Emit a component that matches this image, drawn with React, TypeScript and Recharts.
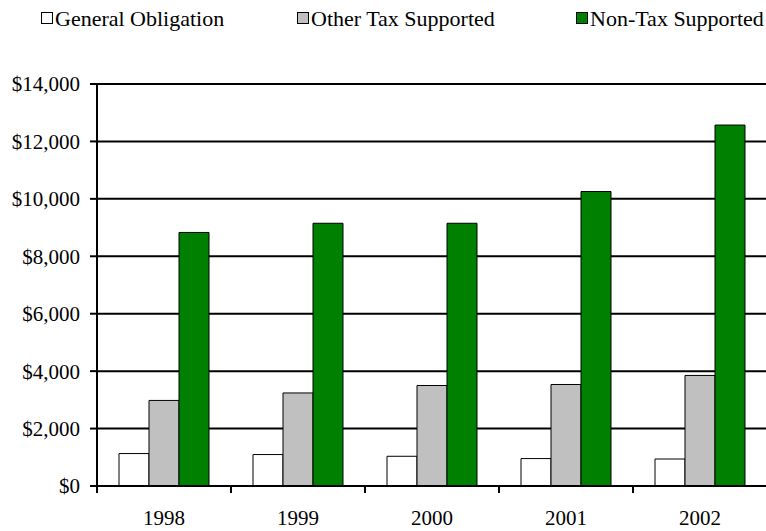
import { Bar, BarChart, CartesianGrid, XAxis, YAxis } from 'recharts';

const years = ['1998', '1999', '2000', '2001', '2002'];
const generalObligation = [1130, 1095, 1035, 955, 940];
const otherTaxSupported = [2980, 3240, 3500, 3535, 3850];
const nonTaxSupported = [8830, 9150, 9150, 10255, 12570];
const yTicks = [0, 2000, 4000, 6000, 8000, 10000, 12000, 14000];

const seriesNames = ['General Obligation', 'Other Tax Supported', 'Non-Tax Supported'];
const seriesColors = ['#ffffff', '#c0c0c0', '#008000'];
const legendX = [41, 297, 576];

const data = years.map((year, i) => ({
  year,
  go: generalObligation[i],
  other: otherTaxSupported[i],
  nonTax: nonTaxSupported[i],
}));

const font = 'Liberation Serif';

function ChartLegend() {
  return (
    <svg width={766} height={40} style={{ position: 'absolute', left: 0, top: 0 }}>
      {seriesNames.map((name, i) => (
        <g key={name}>
          <rect x={legendX[i] + 0.5} y={12.5} width={11} height={11} fill={seriesColors[i]} stroke="#000" strokeWidth={1} />
          <text x={legendX[i] + 14} y={26} fontFamily={font} fontSize={22} fill="#000">
            {name}
          </text>
        </g>
      ))}
    </svg>
  );
}

// label at the band centre, tick mark on the band's left boundary (Excel style)
function YearTick(props: any) {
  const { x, y, payload, width, visibleTicksCount } = props;
  const band = width / visibleTicksCount;
  const left = x - band / 2;
  return (
    <g>
      <line x1={left} y1={y} x2={left} y2={y + 7} stroke="#000" strokeWidth={2} />
      <text x={x} y={y + 24} dy="0.71em" textAnchor="middle" fontFamily={font} fontSize={21} fill="#000">
        {payload.value}
      </text>
    </g>
  );
}

export default function App() {
  return (
    <div style={{ position: 'absolute', left: 0, top: 0, width: 766, height: 531, overflow: 'hidden', background: '#fff' }}>
      <ChartLegend />
      <div style={{ position: 'absolute', left: 0, top: 0 }}>
        <BarChart
          width={767}
          height={531}
          data={data}
          margin={{ top: 84, right: 0, bottom: 0, left: 0 }}
          barGap={0}
          barSize={30}
        >
          <CartesianGrid vertical={false} stroke="#000" strokeWidth={2} />
          <XAxis
            dataKey="year"
            interval={0}
            height={45}
            tickSize={0}
            tickMargin={0}
            tickLine={false}
            tick={<YearTick />}
            axisLine={{ stroke: '#000', strokeWidth: 2 }}
          />
          <YAxis
            width={97}
            domain={[0, 14000]}
            ticks={yTicks}
            interval={0}
            tickSize={7}
            tickMargin={10}
            tickFormatter={(v: number) => '$' + v.toLocaleString('en-US')}
            axisLine={{ stroke: '#000', strokeWidth: 2 }}
            tickLine={{ stroke: '#000', strokeWidth: 2 }}
            tick={{ fill: '#000', fontSize: 21, fontFamily: font }}
          />
          <Bar dataKey="go" name={seriesNames[0]} fill={seriesColors[0]} stroke="#000" strokeWidth={1} isAnimationActive={false} />
          <Bar dataKey="other" name={seriesNames[1]} fill={seriesColors[1]} stroke="#000" strokeWidth={1} isAnimationActive={false} />
          <Bar dataKey="nonTax" name={seriesNames[2]} fill={seriesColors[2]} stroke="#000" strokeWidth={1} isAnimationActive={false} />
        </BarChart>
      </div>
    </div>
  );
}
